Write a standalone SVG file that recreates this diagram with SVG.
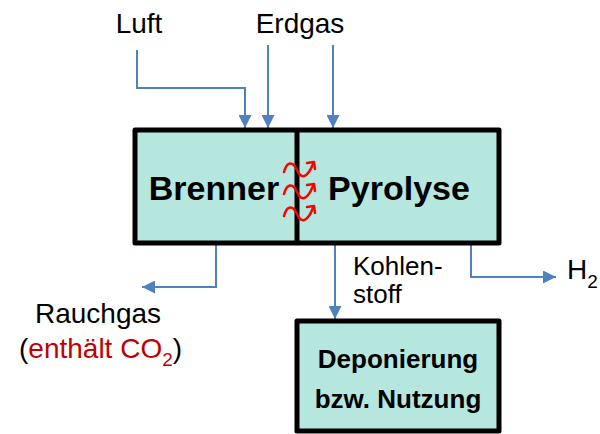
<svg xmlns="http://www.w3.org/2000/svg" width="600" height="434" viewBox="0 0 600 434">
<style>
.box{fill:#b5e7df;stroke:#000;stroke-width:5;stroke-linejoin:round}
.conn{fill:none;stroke:#4f81bd;stroke-width:2;marker-end:url(#arr)}
.lbl{font-family:"Liberation Sans",Arial,sans-serif;font-size:28px;fill:#000}
.small{font-size:26px}
.bold{font-family:"Liberation Sans",Arial,sans-serif;font-weight:bold;fill:#000;text-anchor:middle}
.heat{fill:none;stroke:#ff0000;stroke-width:2.5;stroke-linecap:round;stroke-linejoin:round}
</style>
<defs>
<marker id="arr" markerUnits="userSpaceOnUse" markerWidth="13" markerHeight="13" refX="13" refY="6.5" orient="auto">
<path d="M0,0 L13,6.5 L0,13 z" fill="#4f81bd"/>
</marker>
<g id="wave">
<path class="heat" d="M284,172 C287,161 293,161 297,170 C301,179 307,179 313,164"/>
<path class="heat" d="M307,163 L314,162 L315,169"/>
</g>
</defs>
<g id="connectors">
<path class="conn" d="M137,50 V88 H245 V128"/>
<path class="conn" d="M268,45 V128"/>
<path class="conn" d="M333,45 V128"/>
<path class="conn" d="M216,245 V287 H142"/>
<path class="conn" d="M335,245 V319"/>
<path class="conn" d="M471,245 V277 H556"/>
</g>
<g id="reactor">
<rect class="box" x="135" y="130" width="364" height="113"/>
<line x1="297" y1="130" x2="297" y2="243" stroke="#000" stroke-width="5"/>
</g>
<g id="brenner">
<text class="bold" x="214" y="200" font-size="34">Brenner</text>
</g>
<g id="pyrolyse">
<text class="bold" x="399" y="200" font-size="34">Pyrolyse</text>
</g>
<g id="heat">
<use href="#wave"/>
<use href="#wave" y="22"/>
<use href="#wave" y="44"/>
</g>
<g id="deponierung">
<rect class="box" x="297" y="321" width="202" height="110"/>
<text class="bold" x="398" y="368" font-size="26">Deponierung</text>
<text class="bold" x="398" y="408" font-size="26">bzw. Nutzung</text>
</g>
<g id="luft"><text class="lbl" x="139" y="33" text-anchor="middle">Luft</text></g>
<g id="erdgas"><text class="lbl" x="300" y="33" text-anchor="middle">Erdgas</text></g>
<g id="rauchgas">
<text class="lbl" x="98" y="323" text-anchor="middle">Rauchgas</text>
<text class="lbl" x="19" y="358">(<tspan fill="#c00000">enthält CO</tspan><tspan fill="#c00000" font-size="19" dy="8">2</tspan><tspan dy="-8">)</tspan></text>
</g>
<g id="kohlenstoff">
<text class="lbl small" x="353" y="275">Kohlen-</text>
<text class="lbl small" x="353" y="303">stoff</text>
</g>
<g id="h2">
<text class="lbl" x="567" y="279">H<tspan font-size="19" dy="9">2</tspan></text>
</g>
</svg>
